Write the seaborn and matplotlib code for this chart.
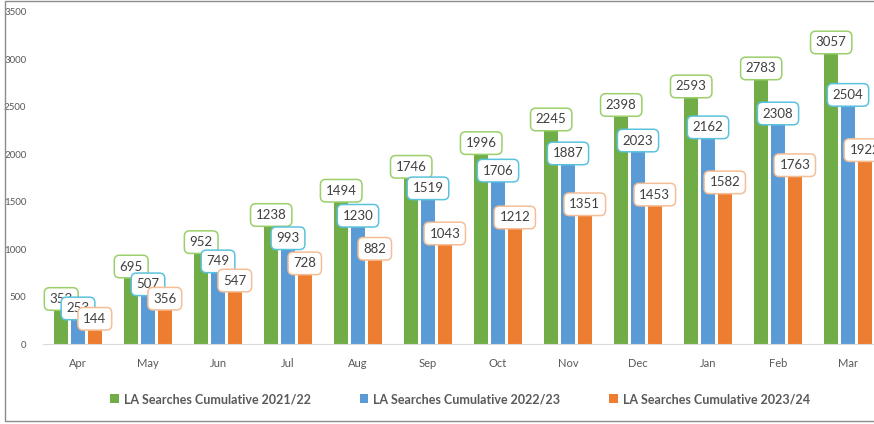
import numpy as np
import pandas as pd
import seaborn as sns
import matplotlib.pyplot as plt
from matplotlib.patches import Rectangle, Patch

months = ["Apr", "May", "Jun", "Jul", "Aug", "Sep", "Oct", "Nov", "Dec", "Jan", "Feb", "Mar"]
series_names = ["LA Searches Cumulative 2021/22", "LA Searches Cumulative 2022/23",
                "LA Searches Cumulative 2023/24"]
values_2122 = [353, 695, 952, 1238, 1494, 1746, 1996, 2245, 2398, 2593, 2783, 3057]
values_2223 = [253, 507, 749, 993, 1230, 1519, 1706, 1887, 2023, 2162, 2308, 2504]
values_2324 = [144, 356, 547, 728, 882, 1043, 1212, 1351, 1453, 1582, 1763, 1922]

bar_colors = ["#70AD47", "#5B9BD5", "#ED7D31"]
box_edges = ["#9BCF6B", "#5BC2DE", "#F5BE96"]

df = pd.DataFrame({
    "month": months * 3,
    "series": [series_names[0]] * 12 + [series_names[1]] * 12 + [series_names[2]] * 12,
    "value": values_2122 + values_2223 + values_2324,
})

sns.set_style("white")
plt.rcParams["font.family"] = ["Lato", "DejaVu Sans"]

fig = plt.figure(figsize=(8.74, 4.24), dpi=100)
ax = fig.add_axes([43 / 874, 80 / 424, 840 / 874, 332 / 424])

sns.barplot(data=df, x="month", y="value", hue="series", order=months,
            hue_order=series_names, palette=bar_colors, width=0.72, gap=0.2,
            linewidth=0, saturation=1, ax=ax, legend=False)

# data labels in rounded boxes
for cont, ec in zip(ax.containers, box_edges):
    for bar in cont:
        h = bar.get_height()
        ax.annotate(f"{int(round(h))}", (bar.get_x() + bar.get_width() / 2, h),
                    xytext=(0, 4), textcoords="offset points", ha="center", va="bottom",
                    fontsize=9.5, color="#404040",
                    bbox=dict(boxstyle="round,pad=0.4,rounding_size=0.4", fc="white",
                              ec=ec, lw=1.1))

ax.set_ylim(0, 3500)
ax.set_xlim(-0.5, 11.5)
ax.set_yticks(np.arange(0, 3501, 500))
ax.set_xlabel("")
ax.set_ylabel("")
ax.tick_params(axis="y", length=0, labelsize=7, labelcolor="#595959", pad=12)
ax.tick_params(axis="x", length=0, labelsize=8, labelcolor="#595959", pad=10)
ax.set_xticks(np.arange(-0.5, 12, 1), minor=True)
ax.tick_params(axis="x", which="minor", length=4, color="#D9D9D9", width=0.8)
for s in ["top", "right", "left"]:
    ax.spines[s].set_visible(False)
ax.spines["bottom"].set_color("#D9D9D9")
ax.spines["bottom"].set_linewidth(0.8)

handles = [Patch(facecolor=c, edgecolor="none") for c in bar_colors]
leg = fig.legend(handles, series_names, loc="center", ncol=3,
                 bbox_to_anchor=(460 / 874, 25 / 424), frameon=False,
                 handlelength=0.7, handleheight=0.7, handletextpad=0.4,
                 columnspacing=3.9, prop={"size": 9, "weight": "bold"})
for t in leg.get_texts():
    t.set_color("#595959")

# chart outline
fig.patches.append(Rectangle((5 / 874, 3 / 424), 1.2, 420 / 424, transform=fig.transFigure,
                             fill=False, ec="#8C8C8C", lw=1.0))

fig.savefig("out.png", dpi=100)
